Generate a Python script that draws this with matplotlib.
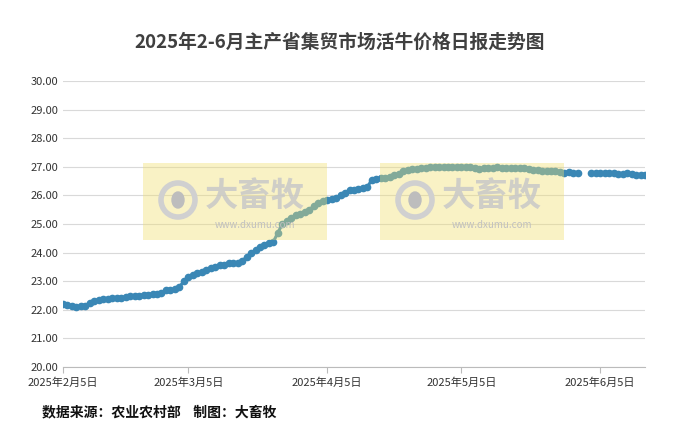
import numpy as np
import pandas as pd
import matplotlib.pyplot as plt
from matplotlib.patches import Rectangle, Ellipse

plt.rcParams['font.family'] = ['Noto Sans CJK SC', 'DejaVu Sans']

# daily prices (yuan/kg)
feb = [22.20, 22.17, 22.13, 22.10, 22.12, 22.15, 22.25, 22.32, 22.35, 22.37, 22.38, 22.40,
       22.42, 22.40, 22.45, 22.47, 22.48, 22.50, 22.52, 22.53, 22.55, 22.55, 22.60, 22.68]
mar = [22.70, 22.72, 22.80, 23.00, 23.15, 23.22, 23.28, 23.32, 23.38, 23.45, 23.50, 23.55,
       23.58, 23.62, 23.65, 23.65, 23.70, 23.85, 23.98, 24.08, 24.18, 24.28, 24.32, 24.38,
       24.70, 25.00, 25.12, 25.22, 25.30, 25.35, 25.42]
apr = [25.50, 25.62, 25.72, 25.80, 25.85, 25.88, 25.92, 26.00, 26.10, 26.18, 26.20, 26.22,
       26.25, 26.30, 26.55, 26.58, 26.60, 26.62, 26.65, 26.70, 26.75, 26.85, 26.90, 26.92,
       26.92, 26.95, 26.97, 26.98, 26.98, 26.98]
may = [26.98, 26.98, 26.98, 26.98, 26.98, 26.98, 26.98, 26.95, 26.93, 26.95, 26.95, 26.96,
       26.98, 26.97, 26.97, 26.95, 26.95, 26.95, 26.97, 26.93, 26.90, 26.88, 26.87, 26.85,
       26.85, 26.85, 26.82, 26.80, 26.82, 26.80, 26.80]
jun = [26.80, 26.78, 26.78, 26.78, 26.78, 26.78, 26.75, 26.75, 26.80, 26.75, 26.70, 26.70,
       26.70]

d1 = pd.date_range('2025-02-05', periods=len(feb) + len(mar) + len(apr) + len(may))
d2 = pd.date_range('2025-06-03', periods=len(jun))

W, H = 680, 433
fig, ax = plt.subplots(figsize=(6.8, 4.33), dpi=100)
fig.subplots_adjust(left=63 / W, right=645 / W, top=1 - 81 / H, bottom=1 - 367 / H)

col = '#3a87b5'
ax.plot(d1, feb + mar + apr + may, '-o', color=col, lw=2.2, ms=4.5, zorder=3)
ax.plot(d2, jun, '-o', color=col, lw=2.2, ms=4.5, zorder=3)

ax.set_ylim(20, 30)
ax.set_yticks(np.arange(20, 30.01, 1))
ax.yaxis.set_major_formatter(plt.FuncFormatter(lambda v, p: f'{v:.2f}'))
ax.set_xlim(pd.Timestamp('2025-02-05'), pd.Timestamp('2025-06-15'))
ticks = pd.to_datetime(['2025-02-05', '2025-03-05', '2025-04-05', '2025-05-05', '2025-06-05'])
ax.set_xticks(ticks)
ax.set_xticklabels([f'2025年{t.month}月{t.day}日' for t in ticks])
ax.tick_params(axis='both', labelsize=8, colors='#333333', length=0)
ax.tick_params(axis='x', length=4, color='#bbbbbb')
ax.grid(axis='y', color='#d9d9d9', lw=0.8)
for s in ['top', 'right', 'left']:
    ax.spines[s].set_visible(False)
ax.spines['bottom'].set_color('#bbbbbb')

# watermarks (pixel positions on the figure)
tf = fig.transFigure
for px in [143, 380]:
    fig.add_artist(Rectangle((px / W, 1 - 240 / H), 184 / W, 77 / H, transform=tf,
                             color='#f0e070', alpha=0.4, zorder=4, lw=0))
    fig.add_artist(Ellipse(((px + 35) / W, 1 - 200 / H), 34 / W, 34 / H, transform=tf,
                           fill=False, ec='#d0d0d0', lw=4, zorder=5))
    fig.add_artist(Ellipse(((px + 35) / W, 1 - 200 / H), 12 / W, 16 / H, transform=tf,
                           color='#bdbdbd', zorder=5))
    fig.text((px + 112) / W, 1 - 196 / H, '大畜牧', ha='center', va='center',
             fontsize=24, fontweight='bold', color='#c8c8c8', alpha=0.85, zorder=5)
    fig.text((px + 112) / W, 1 - 225 / H, 'www.dxumu.com', ha='center', va='center',
             fontsize=7, color='#c0c0c0', zorder=5)

fig.text(0.5, 1 - 42 / H, '2025年2-6月主产省集贸市场活牛价格日报走势图', ha='center', va='center',
         fontsize=13.5, fontweight='bold', color='#404040')
fig.text(42 / W, 1 - 412 / H, '数据来源：农业农村部    制图：大畜牧', ha='left', va='center',
         fontsize=10, fontweight='bold', color='#111111')

fig.savefig('out.png')
